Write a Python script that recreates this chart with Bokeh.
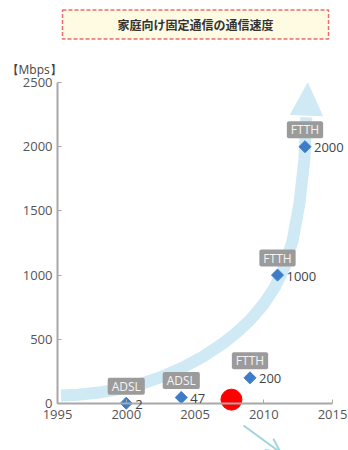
import math
from bokeh.plotting import figure
from bokeh.models import (Range1d, FixedTicker, Label, Arrow, NormalHead, OpenHead, LinearAxis)
from bokeh.embed import file_html
from bokeh.resources import INLINE

# ---------------- data ----------------
years = [2000, 2004, 2009, 2011, 2013]
speeds = [2, 47, 200, 1000, 2000]
speed_labels = ["2", "47", "200", "1000", "2000"]
tech = ["ADSL", "ADSL", "FTTH", "FTTH", "FTTH"]
x_ticks = [1995, 2000, 2005, 2010, 2015]
y_ticks = [0, 500, 1000, 1500, 2000, 2500]
title_text = "家庭向け固定通信の通信速度"
unit_text = "【Mbps】"

# decorative trend band
trend_x = [1995.25, 1996.5, 1998.0, 1999.5, 2001.0, 2002.5, 2004.0, 2005.5, 2007.0,
           2008.0, 2009.0, 2010.0, 2010.8, 2011.5, 2012.1, 2012.6, 2012.95, 2013.1]
trend_y = [62, 68, 85, 112, 150, 205, 275, 360, 465, 550, 650, 775, 905, 1060, 1270, 1560, 1900, 2230]
trend_tip = (2013.2, 2495)
marker_x = [2007.65]
marker_y = [30]

# ---------------- layout ----------------
W, H = 348, 450
AX_X0, AX_X1 = 57, 332      # pixel of 1995 / 2015
AX_Y0, AX_Y1 = 403, 82      # pixel of 0 / 2500
ppx = (AX_X1 - AX_X0) / 20.0
ppy = (AX_Y0 - AX_Y1) / 2500.0

def dx(px):
    return 1995 + (px - AX_X0) / ppx

def dy(py):
    return (AX_Y0 - py) / ppy

p = figure(width=W, height=H, output_backend="svg", toolbar_location=None,
           x_range=Range1d(dx(0), dx(W)), y_range=Range1d(dy(H), dy(0)),
           min_border_left=0, min_border_right=0, min_border_top=0,
           min_border_bottom=0, x_axis_type=None, y_axis_type=None)
p.outline_line_color = None
p.background_fill_color = "white"
p.border_fill_color = "white"

def style_axis(ax):
    ax.axis_line_color = "#a8a8a8"
    ax.axis_line_width = 2
    ax.major_tick_in = 4
    ax.major_tick_out = 0
    ax.major_tick_line_color = "#a8a8a8"
    ax.major_tick_line_width = 1
    ax.minor_tick_line_color = None
    ax.major_label_text_font = "Open Sans"
    ax.major_label_text_font_size = "13px"
    ax.major_label_text_color = "#555555"

xa = LinearAxis(ticker=FixedTicker(ticks=x_ticks), bounds=(1995, 2015), fixed_location=0)
style_axis(xa)
xa.major_label_standoff = 6
ya = LinearAxis(ticker=FixedTicker(ticks=y_ticks), bounds=(0, 2500), fixed_location=1995)
style_axis(ya)
ya.major_label_standoff = 5
p.add_layout(xa, "below")
p.add_layout(ya, "left")

band_color = "#d0eaf5"
p.line(trend_x, trend_y, line_width=12, line_color=band_color, line_cap="butt", line_join="round")
p.add_layout(Arrow(x_start=trend_x[-1], y_start=trend_y[-1], x_end=trend_tip[0], y_end=trend_tip[1],
                   line_alpha=0,
                   end=NormalHead(size=32, fill_color=band_color, line_color=band_color, line_width=1)))

p.scatter(years, speeds, marker="square", size=8.5, angle=math.pi / 4,
          fill_color="#3f7cc8", line_color="#3f7cc8")

for xv, yv, t, s in zip(years, speeds, tech, speed_labels):
    p.add_layout(Label(x=xv, y=yv, y_offset=17, text=t, text_align="center", text_baseline="middle",
                       text_color="#f4f4f4", text_font="Open Sans", text_font_size="12px",
                       background_fill_color="#9b9b9b", border_radius=2, padding=(4, 0)))
    p.add_layout(Label(x=xv, y=yv, x_offset=9, y_offset=-1, text=s, text_align="left",
                       text_baseline="middle", text_color="#444444", text_font="Open Sans",
                       text_font_size="13px"))

p.scatter(marker_x, marker_y, marker="circle", size=21, fill_color="#ff0000", line_color="#ff0000")

p.add_layout(Label(x=dx(195), y=dy(24), text=title_text, text_align="center", text_baseline="middle",
                   text_color="#333333", text_font="Noto Sans CJK JP", text_font_size="12px",
                   text_font_style="bold", background_fill_color="#fffbe3",
                   border_line_color="#ee6b6b", border_line_dash="4 2", border_line_width=1.5,
                   padding=(55, 6)))
p.add_layout(Label(x=dx(6), y=dy(69), text=unit_text, text_align="left", text_baseline="middle",
                   text_color="#444444", text_font="Open Sans", text_font_size="12px"))

p.add_layout(Arrow(x_start=dx(243), y_start=dy(425), x_end=dx(280), y_end=dy(452),
                   line_color="#9fd6dc", line_width=2,
                   end=OpenHead(size=14, line_color="#9fd6dc", line_width=2)))

open("out.html", "w").write(file_html(p, INLINE))
